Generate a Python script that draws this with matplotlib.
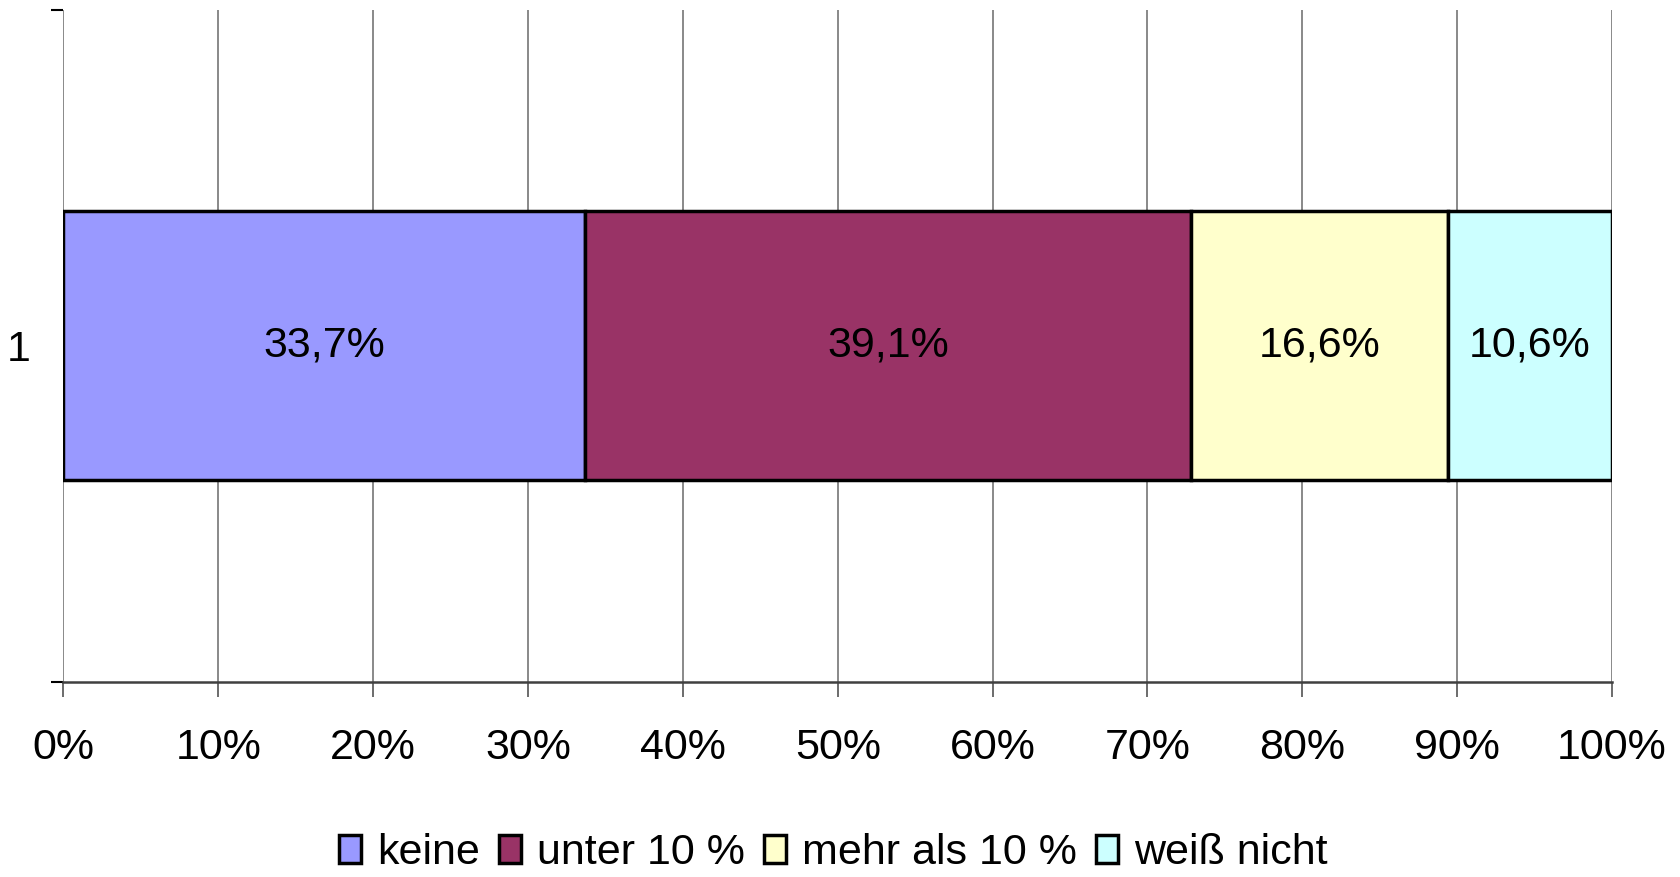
import matplotlib
matplotlib.use("Agg")
import matplotlib.pyplot as plt
from matplotlib.patches import Patch
import numpy as np

categories = ["1"]
series = ["keine", "unter 10 %", "mehr als 10 %", "weiß nicht"]
values = [33.7, 39.1, 16.6, 10.6]
colors = ["#9999FF", "#993366", "#FFFFCC", "#CCFFFF"]
xticks = [0, 10, 20, 30, 40, 50, 60, 70, 80, 90, 100]
xticklabels = [f"{t}%" for t in xticks]

plt.rcParams['font.family'] = ['Liberation Sans', 'DejaVu Sans']
FS = 31

W, H = 1681, 877
fig = plt.figure(figsize=(W / 100, H / 100), dpi=100)
left, right, top, bottom = 63.5, 1612, 9.5, 682
ax = fig.add_axes([left / W, 1 - bottom / H, (right - left) / W, (bottom - top) / H])

ax.set_xlim(0, 100)
ax.set_ylim(-0.5, 0.5)

start = 0
for name, v, c in zip(series, values, colors):
    ax.barh(0, v, left=start, height=0.4, color=c, edgecolor="black", linewidth=2.5, zorder=3)
    ax.text(start + v / 2, 0, f"{v:.1f}".replace(".", ",") + "%", ha="center", va="center",
            fontsize=FS, color="black", zorder=4)
    start += v

ax.set_xticks(xticks)
ax.set_xticklabels(xticklabels, fontsize=FS)
ax.grid(axis="x", color="#808080", linewidth=1.3, zorder=0)
ax.tick_params(axis="x", length=11, width=1.3, color="#606060", pad=22)

ax.set_yticks([0])
ax.set_yticklabels(categories, fontsize=FS)
ax.set_yticks([-0.5, 0.5], minor=True)
ax.tick_params(axis="y", which="major", length=0, pad=24)
ax.tick_params(axis="y", which="minor", length=9, width=1.5, color="black")

for s in ["top", "right", "left"]:
    ax.spines[s].set_visible(False)
ax.spines["bottom"].set_color("#404040")
ax.spines["bottom"].set_linewidth(1.8)

handles = [Patch(facecolor=c, edgecolor="black", linewidth=2.5) for c in colors]
fig.legend(handles, series, loc="center", bbox_to_anchor=(833.5 / W, 1 - 853 / H), ncol=4,
           frameon=False, fontsize=FS, handlelength=0.5, handleheight=0.62,
           handletextpad=0.38, columnspacing=0.45, borderaxespad=0, borderpad=0)

fig.savefig("out.png", dpi=100)
